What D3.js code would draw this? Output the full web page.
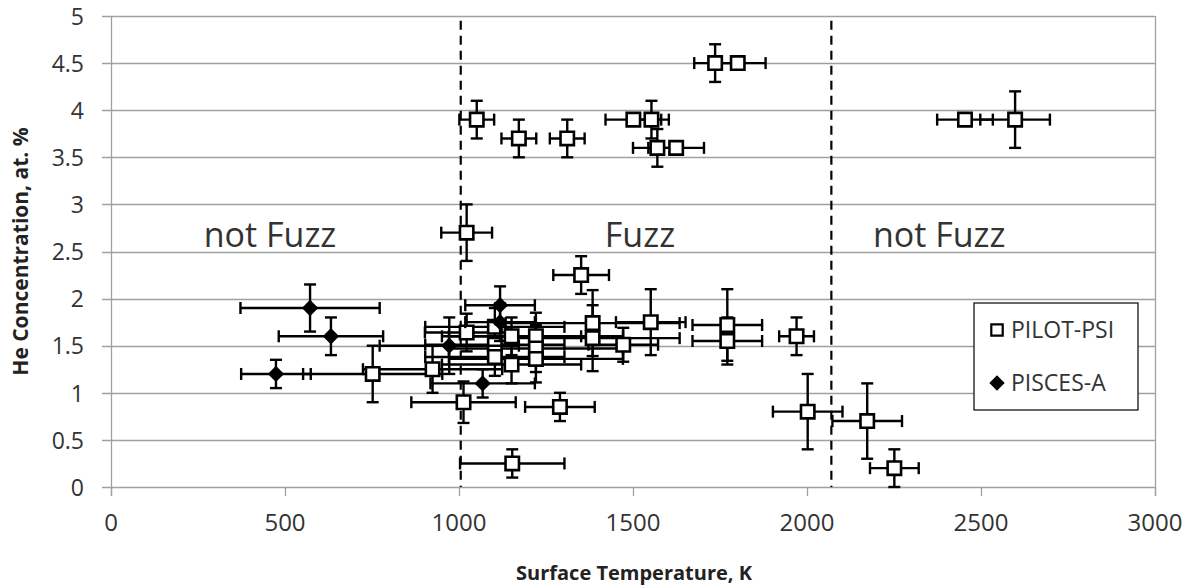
<!DOCTYPE html>
<html>
<head>
<meta charset="utf-8">
<script src="https://cdn.jsdelivr.net/npm/d3@7"></script>
<style>
    body { margin: 0; background: #fff; }
    svg { display: block; font-family: "Open Sans", sans-serif; }
</style>
</head>
<body>
<svg id="chart" width="1196" height="588"></svg>
<script>
// PILOT-PSI: surface temperature (K), He concentration (at. %), error bars
const pilotTemp = [1736, 1801, 1051, 1172, 1311, 1501, 1553, 1570, 1624, 2454, 2598, 1022, 1351,
    752, 924, 1022, 1013, 1290, 1153, 1103, 1103, 1103, 1151, 1151, 1221, 1221, 1221,
    1384, 1384, 1472, 1551, 1771, 1771, 1970, 2002, 2173, 2251];
const pilotHe = [4.5, 4.5, 3.9, 3.7, 3.7, 3.9, 3.9, 3.6, 3.6, 3.9, 3.9, 2.7, 2.25,
    1.2, 1.25, 1.64, 0.9, 0.85, 0.25, 1.7, 1.51, 1.38, 1.6, 1.3, 1.6, 1.47, 1.36,
    1.74, 1.58, 1.51, 1.75, 1.72, 1.55, 1.6, 0.8, 0.7, 0.2];
const pilotTempErr = [60, 80, 50, 50, 50, 80, 50, 70, 80, 80, 100, 73, 80,
    200, 200, 120, 150, 100, 150, 200, 200, 200, 200, 200, 250, 250, 250,
    250, 250, 100, 100, 100, 100, 50, 100, 100, 70];
const pilotHeErr = [0.2, 0, 0.2, 0.2, 0.2, 0, 0.2, 0.2, 0, 0, 0.3, 0.3, 0.2,
    0.3, 0.25, 0.2, 0.22, 0.15, 0.15, 0.2, 0.2, 0.2, 0.2, 0.2, 0.25, 0.25, 0.25,
    0.35, 0.35, 0.18, 0.35, 0.38, 0.25, 0.2, 0.4, 0.4, 0.2];

// PISCES-A
const piscesTemp = [474, 572, 632, 972, 1068, 1118, 1118];
const piscesHe = [1.2, 1.9, 1.6, 1.5, 1.1, 1.93, 1.75];
const piscesTempErr = [100, 200, 150, 200, 150, 100, 100];
const piscesHeErr = [0.15, 0.25, 0.2, 0.3, 0.15, 0.2, 0.2];

const xTicks = [0, 500, 1000, 1500, 2000, 2500, 3000];
const yTicks = [0, 0.5, 1, 1.5, 2, 2.5, 3, 3.5, 4, 4.5, 5];
const boundaries = [1005, 2070];
const regionLabels = [
    { text: "not Fuzz", t: 457, he: 2.55 },
    { text: "Fuzz", t: 1520, he: 2.55 },
    { text: "not Fuzz", t: 2380, he: 2.55 },
];
const seriesNames = ["PILOT-PSI", "PISCES-A"];

const svg = d3.select("#chart");
const margin = { top: 16, right: 41, bottom: 101, left: 111 };
const width = 1196, height = 588;

const x = d3.scaleLinear().domain([0, 3000]).range([margin.left, width - margin.right]);
const y = d3.scaleLinear().domain([0, 5]).range([height - margin.bottom, margin.top]);

const gridColor = "#a0a0a0";
const textColor = "#333";

// horizontal gridlines (extend left as tick marks)
svg.append("g")
    .selectAll("line")
    .data(yTicks)
    .join("line")
    .attr("x1", margin.left - 9)
    .attr("x2", x(3000))
    .attr("y1", (d) => Math.round(y(d)) + 0.5)
    .attr("y2", (d) => Math.round(y(d)) + 0.5)
    .attr("stroke", gridColor)
    .attr("stroke-width", 1.3);

// left and right frame lines
[0, 3000].forEach((v) => {
    svg.append("line")
        .attr("x1", Math.round(x(v)) + 0.5).attr("x2", Math.round(x(v)) + 0.5)
        .attr("y1", y(5)).attr("y2", y(0) + 9)
        .attr("stroke", gridColor).attr("stroke-width", 1.3);
});

// x tick marks
svg.append("g")
    .selectAll("line")
    .data(xTicks)
    .join("line")
    .attr("x1", (d) => Math.round(x(d)) + 0.5)
    .attr("x2", (d) => Math.round(x(d)) + 0.5)
    .attr("y1", y(0))
    .attr("y2", y(0) + 9)
    .attr("stroke", gridColor)
    .attr("stroke-width", 1.3);

// tick labels
svg.append("g")
    .selectAll("text")
    .data(yTicks)
    .join("text")
    .attr("x", 84)
    .attr("y", (d) => y(d))
    .attr("dy", "0.38em")
    .attr("text-anchor", "end")
    .attr("font-size", 23)
    .attr("fill", textColor)
    .text((d) => d);

svg.append("g")
    .selectAll("text")
    .data(xTicks)
    .join("text")
    .attr("x", (d) => x(d))
    .attr("y", 531)
    .attr("text-anchor", "middle")
    .attr("font-size", 24)
    .attr("fill", textColor)
    .text((d) => d);

// axis titles
svg.append("text")
    .attr("transform", `translate(28, ${y(2.5)}) rotate(-90)`)
    .attr("text-anchor", "middle")
    .attr("font-size", 21)
    .attr("font-weight", "bold")
    .attr("fill", "#222")
    .text("He Concentration, at. %");

svg.append("text")
    .attr("x", 634)
    .attr("y", 580)
    .attr("text-anchor", "middle")
    .attr("font-size", 20)
    .attr("font-weight", "bold")
    .attr("fill", "#222")
    .text("Surface Temperature, K");

// region boundaries
svg.append("g")
    .selectAll("line")
    .data(boundaries)
    .join("line")
    .attr("x1", (d) => x(d))
    .attr("x2", (d) => x(d))
    .attr("y1", y(4.95))
    .attr("y2", y(0))
    .attr("stroke", "#000")
    .attr("stroke-width", 2.2)
    .attr("stroke-dasharray", "9,6");

// region labels
svg.append("g")
    .selectAll("text")
    .data(regionLabels)
    .join("text")
    .attr("x", (d) => x(d.t))
    .attr("y", (d) => y(d.he))
    .attr("text-anchor", "middle")
    .attr("font-size", 34)
    .attr("fill", textColor)
    .text((d) => d.text);

function drawErrorBars(temps, hes, tErr, hErr) {
    const g = svg.append("g").attr("stroke", "#000").attr("stroke-width", 2.4);
    const cap = 6;
    temps.forEach((t, i) => {
        const cx = x(t), cy = y(hes[i]);
        if (tErr[i] > 0) {
            const x1 = x(t - tErr[i]), x2 = x(t + tErr[i]);
            g.append("line").attr("x1", x1).attr("x2", x2).attr("y1", cy).attr("y2", cy);
            g.append("line").attr("x1", x1).attr("x2", x1).attr("y1", cy - cap).attr("y2", cy + cap);
            g.append("line").attr("x1", x2).attr("x2", x2).attr("y1", cy - cap).attr("y2", cy + cap);
        }
        if (hErr[i] > 0) {
            const y1 = y(hes[i] + hErr[i]), y2 = y(hes[i] - hErr[i]);
            g.append("line").attr("x1", cx).attr("x2", cx).attr("y1", y1).attr("y2", y2);
            g.append("line").attr("x1", cx - cap).attr("x2", cx + cap).attr("y1", y1).attr("y2", y1);
            g.append("line").attr("x1", cx - cap).attr("x2", cx + cap).attr("y1", y2).attr("y2", y2);
        }
    });
}

const squareSym = d3.symbol().type(d3.symbolSquare).size(180);
const diamondSym = d3.symbol().type(d3.symbolDiamond2).size(170);

drawErrorBars(pilotTemp, pilotHe, pilotTempErr, pilotHeErr);
svg.append("g")
    .selectAll("path")
    .data(pilotTemp)
    .join("path")
    .attr("d", squareSym)
    .attr("transform", (d, i) => `translate(${x(d)},${y(pilotHe[i])})`)
    .attr("fill", "#fff")
    .attr("stroke", "#000")
    .attr("stroke-width", 2.6);

drawErrorBars(piscesTemp, piscesHe, piscesTempErr, piscesHeErr);
svg.append("g")
    .selectAll("path")
    .data(piscesTemp)
    .join("path")
    .attr("d", diamondSym)
    .attr("transform", (d, i) => `translate(${x(d)},${y(piscesHe[i])})`)
    .attr("fill", "#000");

// legend
const legend = svg.append("g").attr("transform", "translate(974,303)");
legend.append("rect")
    .attr("width", 164).attr("height", 107)
    .attr("fill", "#fff").attr("stroke", "#000").attr("stroke-width", 1.2);
const legendItems = legend.selectAll("g.item")
    .data(seriesNames)
    .join("g")
    .attr("class", "item")
    .attr("transform", (d, i) => `translate(23, ${27 + i * 53})`);
legendItems.append("path")
    .attr("d", (d, i) => i === 0 ? d3.symbol().type(d3.symbolSquare).size(130)() : d3.symbol().type(d3.symbolDiamond2).size(150)())
    .attr("fill", (d, i) => i === 0 ? "#fff" : "#000")
    .attr("stroke", (d, i) => i === 0 ? "#000" : "none")
    .attr("stroke-width", 2.2);
legendItems.append("text")
    .attr("x", 14)
    .attr("dy", "0.35em")
    .attr("font-size", 23)
    .attr("fill", textColor)
    .text((d) => d);
</script>
</body>
</html>
